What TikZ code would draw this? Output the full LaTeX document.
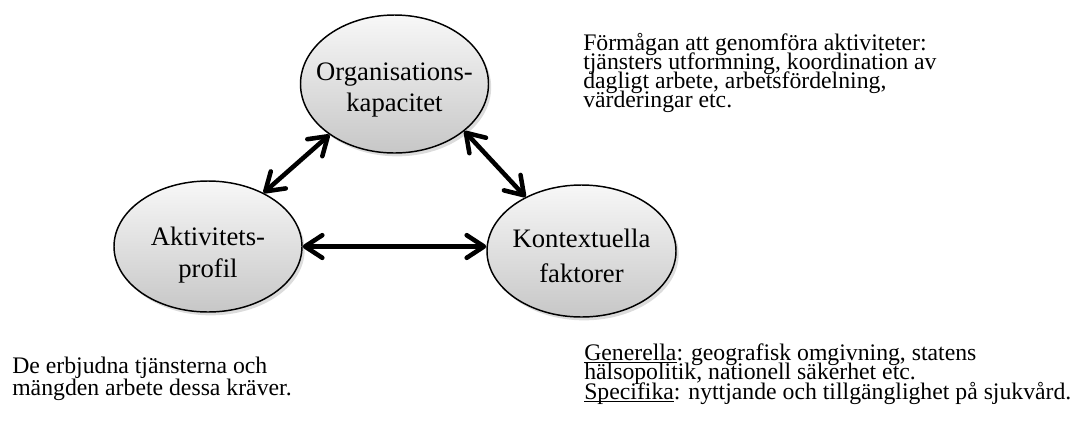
\documentclass[tikz,border=0pt]{standalone}
\usepackage{fontspec}
\setmainfont{Liberation Serif}
\usetikzlibrary{arrows.meta,shadows,shapes.geometric}
\newcommand\ulx[1]{\setbox0\hbox{#1}\rlap{\rule[-2pt]{\wd0}{0.9pt}}\box0}
\newcommand\tightlines{\lineskiplimit=-100pt\relax\lineskip=0pt\relax}
\begin{document}
\begin{tikzpicture}[x=0.75pt,y=-0.75pt,
  bubble/.style={ellipse, draw=black, line width=1.1pt, top color=gray!6, bottom color=gray!44,
    drop shadow={shadow xshift=2pt,shadow yshift=-2.5pt,opacity=0.28}, inner sep=0pt},
  btext/.style={font=\fontsize{20}{24}\selectfont, anchor=base, inner sep=0pt},
  body/.style={align=left, anchor=base west, inner sep=0pt},
  link/.style={line width=3.4pt,
    {Straight Barb[length=13pt,width=17pt,round]}-{Straight Barb[length=13pt,width=17pt,round]}}]
\useasboundingbox (0,0) rectangle (1082,426);

\node[bubble, minimum width=141pt, minimum height=103.5pt] (O) at (394.5,84) {};
\node[bubble, minimum width=141pt, minimum height=98.25pt] (A) at (208,246.5) {};
\node[bubble, minimum width=141.75pt, minimum height=99pt] (K) at (581.5,251) {};

\node[btext] (o1) at (394.5,80) {Organisations-};
\node[btext] (o2) at (394.5,111) {kapacitet};
\node[btext] (a1) at (208,245) {Aktivitets-};
\node[btext] (a2) at (208,277) {profil};
\node[btext] (k1) at (581.5,247) {Kontextuella};
\node[btext] (k2) at (581.5,282) {faktorer};

\draw[link] (A.44) -- (O.218);
\draw[link] (O.-34) -- (K.136);
\draw[link] (A.east) -- (A.east -| K.west);

\node[body, font=\fontsize{17.8}{14.25}\selectfont\tightlines] (t) at (583,107.3) {Förmågan att genomföra aktiviteter:\\
tjänsters utformning, koordination av\\
dagligt arbete, arbetsfördelning,\\
värderingar etc.};

\node[body, font=\fontsize{17.8}{16.3}\selectfont\tightlines] (l) at (12,395.7) {De erbjudna tjänsterna och\\
mängden arbete dessa kräver.};

\node[body, font=\fontsize{17.8}{14.7}\selectfont\tightlines] (r) at (584,399.3) {\ulx{Generella}: geografisk omgivning, statens\\
hälsopolitik, nationell säkerhet etc.\\
\ulx{Specifika}: nyttjande och tillgänglighet på sjukvård.};
\end{tikzpicture}
\end{document}
